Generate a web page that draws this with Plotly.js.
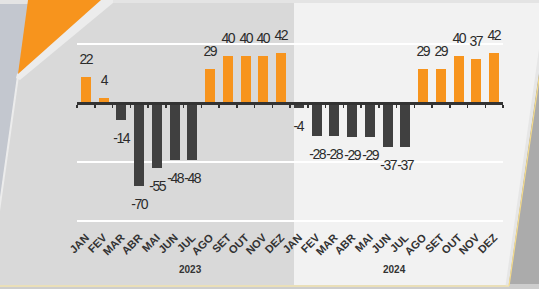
<!DOCTYPE html>
<html>
<head>
<meta charset="utf-8">
<script src="https://cdn.plot.ly/plotly-3.0.1.min.js"></script>
<style>
html,body{margin:0;padding:0;background:#c3c7cf;}
#chart{width:539px;height:289px;}
.annotation.lbl text{letter-spacing:-1.5px;}
</style>
</head>
<body>
<div id="chart"></div>
<script>
// ---- data ----
const months = ['JAN','FEV','MAR','ABR','MAI','JUN','JUL','AGO','SET','OUT','NOV','DEZ'];
const years = ['2023','2024'];
const values2023 = [22, 4, -14, -70, -55, -48, -48, 29, 40, 40, 40, 42];
const values2024 = [-4, -28, -28, -29, -29, -37, -37, 29, 29, 40, 37, 42];

// ---- build ----
const allValues = values2023.concat(values2024);
const tickText = months.concat(months);
const xIdx = allValues.map((v, i) => i);
const colors = allValues.map(v => v >= 0 ? '#f7941d' : '#404040');

const W = 539, H = 289;
// grid area: 50 at y=44px, -100 at y=221px; pad range by 2px on each side
const G_TOP = 44, G_BOT = 221, YMIN = -100, YMAX = 50, PADPX = 2;
const ppu = (G_BOT - G_TOP) / (YMAX - YMIN);
const yRange = [YMIN - PADPX / ppu, YMAX + PADPX / ppu];
const ML = 77, MR = 36, MT = G_TOP - PADPX, MB = H - G_BOT - PADPX;
const PW = W - ML - MR, PH = H - MT - MB;
const fx = px => (px - ML) / PW;
const fy = py => (H - MB - py) / PH;
function poly(pts) {
  return pts.map((p, i) => (i ? 'L' : 'M') + fx(p[0]).toFixed(4) + ',' + fy(p[1]).toFixed(4)).join(' ') + ' Z';
}
function pshape(pts, fill) {
  return {type: 'path', xref: 'paper', yref: 'paper', layer: 'below', path: poly(pts),
    fillcolor: fill, line: {color: 'rgba(0,0,0,0)', width: 0}};
}
function lshape(p1, p2, color, width) {
  return {type: 'line', xref: 'paper', yref: 'paper', layer: 'below',
    x0: fx(p1[0]), y0: fy(p1[1]), x1: fx(p2[0]), y1: fy(p2[1]), line: {color: color, width: width}};
}

const shapes = [
  pshape([[0, 0], [539, 0], [539, 4], [0, 4]], '#e4e4e4'),
  pshape([[539, 0], [560, 0], [560, 289], [500, 289], [549, 3]], '#ababab'),
  pshape([[0, 284], [539, 284], [539, 289], [0, 289]], '#cdcdcd'),
  pshape([[110, 3], [294, 3], [294, 285], [-12, 285], [18, 75]], '#d9d9d9'),
  pshape([[294, 3], [549, 3], [508, 285], [294, 285]], '#f2f2f2'),
  pshape([[100, 0], [113, 0], [113, 3], [20, 80], [16, 78], [17, 74]], '#ececec'),
  lshape([18, 76], [-12, 290], '#ececec', 2),
  lshape([547, 3], [507, 286], '#e6e6e6', 3),
  lshape([550, 3], [509, 286], '#f6dc8a', 1.2),
  lshape([0, 286], [509, 286], '#f3e4b0', 1.5),
  pshape([[28, 0], [101, 0], [18, 74]], '#f7941d')
];

const fontFam = 'Liberation Sans, Arial, sans-serif';
const annotations = [
  {text: '<b>' + years[0] + '</b>', x: 5.9, y: fy(277), xref: 'x', yref: 'paper', showarrow: false,
   font: {family: fontFam, size: 10, color: '#333333'}},
  {text: '<b>' + years[1] + '</b>', x: 17.4, y: fy(277), xref: 'x', yref: 'paper', showarrow: false,
   font: {family: fontFam, size: 10, color: '#333333'}}
].concat(allValues.map((v, i) => ({
  text: String(v), x: i, y: v, xref: 'x', yref: 'y', showarrow: false,
  yshift: v >= 0 ? 18 : -18,
  font: {family: fontFam, size: 14, color: '#2b2b2b'}
})));

const trace = {
  type: 'bar', x: xIdx, y: allValues, width: 0.57,
  marker: {color: colors, line: {width: 0}},
  hoverinfo: 'skip'
};
// invisible trace so the zero-line axis (x2) gets drawn
const axisTrace = {type: 'scatter', mode: 'none', x: xIdx, y: allValues, xaxis: 'x2', hoverinfo: 'skip'};

const boundaries = [];
for (let i = 0; i <= allValues.length; i++) boundaries.push(i - 0.5);

const layout = {
  width: W, height: H,
  margin: {l: ML, r: MR, t: MT, b: MB, pad: 0},
  paper_bgcolor: '#c3c7cf',
  plot_bgcolor: 'rgba(0,0,0,0)',
  showlegend: false,
  bargap: 0,
  xaxis: {
    range: [-0.5, allValues.length - 0.5],
    tickmode: 'array', tickvals: xIdx, ticktext: tickText,
    tickangle: -45, ticks: '', showgrid: false, zeroline: false, showline: false,
    ticklabelstandoff: 5,
    tickfont: {family: fontFam, size: 11, color: '#333333', weight: 'bold'},
    fixedrange: true
  },
  xaxis2: {
    overlaying: 'x', anchor: 'free', position: (0 - yRange[0]) / (yRange[1] - yRange[0]),
    side: 'bottom',
    range: [-0.5, allValues.length - 0.5],
    tickmode: 'array', tickvals: boundaries, ticks: 'outside', ticklen: 3, tickwidth: 1.5,
    tickcolor: '#333333', showticklabels: false, showgrid: false, zeroline: false,
    showline: true, linecolor: '#333333', linewidth: 2.5, fixedrange: true
  },
  yaxis: {
    range: yRange, tickmode: 'array', tickvals: [-100, -50, 50], showticklabels: false, ticks: '',
    showgrid: true, gridcolor: '#ffffff', gridwidth: 1.5,
    zeroline: false, showline: false, fixedrange: true
  },
  shapes: shapes,
  annotations: annotations
};

Plotly.newPlot('chart', [trace, axisTrace], layout, {displayModeBar: false, staticPlot: true}).then(() => {
  document.querySelectorAll('g.annotation').forEach(g => {
    const idx = +g.getAttribute('data-index');
    if (idx >= 2) g.classList.add('lbl');
  });
});
</script>
</body>
</html>
